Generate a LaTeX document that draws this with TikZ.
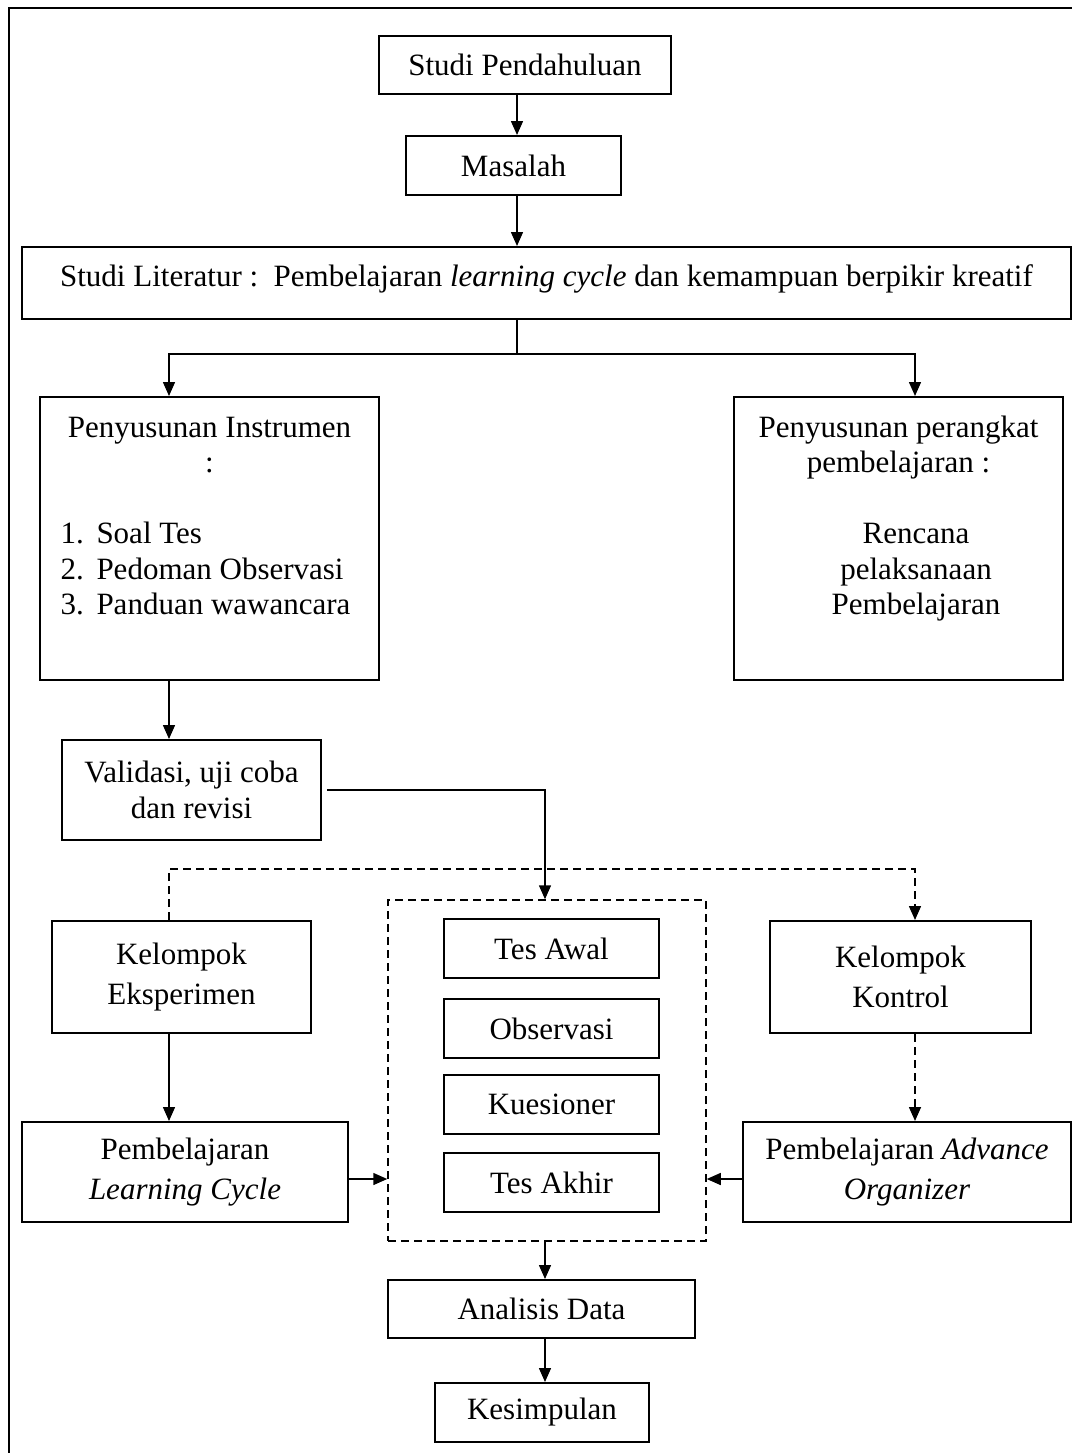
\documentclass[tikz,border=0pt]{standalone}
\usepackage{fontspec}
\setmainfont{Liberation Serif}
\usetikzlibrary{arrows.meta,positioning}
\newdimen\px \px=0.4pt
\tikzset{>={Triangle[length=5.6pt,width=4.8pt]}}
\tikzset{box/.style={draw, line width=0.8pt, inner sep=0pt, align=center}}
\tikzset{boxsize/.style 2 args={minimum width=#1*\px, minimum height=#2*\px}}
\tikzset{txt/.style={inner sep=0pt}}
\tikzset{loose/.style={font=\fontsize{12.4pt}{16pt}\selectfont}}
\tikzset{flow/.style={->, line width=0.6pt}}
\tikzset{dashflow/.style={line width=0.6pt, dash pattern=on 3.2pt off 2pt}}

\begin{document}
\begin{tikzpicture}[x=0.4pt,y=-0.4pt,font=\fontsize{12.4pt}{14.4pt}\selectfont]
  \useasboundingbox (0,0) rectangle (1072,1453);
  % frame
  \draw[line width=0.8pt] (9,1453) -- (9,8) -- (1072,8);

  \coordinate (spine) at (517,0);
  \coordinate (fork) at (517,354);
  \coordinate (forkL) at (169,354);
  \coordinate (forkR) at (915,354);
  \coordinate (dashL) at (169,869);
  \coordinate (dashR) at (915,869);
  \coordinate (drop) at (545,0);
  \coordinate (side) at (0,1179);

  \node[box, boxsize={292}{58}] (pend) at (525,65) {Studi Pendahuluan};
  \node[box, boxsize={215}{59}] (masalah) at (513.5,165.5) {Masalah};
  \node[box, minimum width=1049*\px, text height=15.6pt, text depth=13.2pt, anchor=north] (lit) at (546.5,246)
    {Studi Literatur :\ \ Pembelajaran \textit{learning cycle} dan kemampuan berpikir kreatif};

  \node[box, boxsize={339}{283}] (instr) at (209.5,538.5) {};
  \node[box, boxsize={329}{283}] (perangkat) at (898.5,538.5) {};
  % instrumen
  \node[txt, anchor=base] (instr1) at (209.5,437) {Penyusunan Instrumen};
  \node[txt, anchor=base] (instr2) at (209.5,472) {:};
  \foreach \y/\t [count=\k] in {543/Soal Tes, 579/Pedoman Observasi, 614/Panduan wawancara} {
    \node[txt, anchor=base west] (num\k) at (60,\y) {\k.};
    \node[txt, anchor=base west] (item\k) at (96,\y) {\t};
  }
  % perangkat
  \node[txt, anchor=base] (perangkat1) at (898.5,437) {Penyusunan perangkat};
  \node[txt, anchor=base] (perangkat2) at (898.5,472) {pembelajaran :};
  \node[txt, anchor=base] (rpp1) at (916,543) {Rencana};
  \node[txt, anchor=base] (rpp2) at (916,579) {pelaksanaan};
  \node[txt, anchor=base] (rpp3) at (916,614) {Pembelajaran};

  \node[box, boxsize={259}{100}] (valid) at (191.5,790) {Validasi, uji coba\\dan revisi};
  \node[box, loose, boxsize={259}{112}] (eksp) at (181.5,977) {Kelompok\\Eksperimen};
  \node[box, loose, boxsize={261}{112}] (kontrol) at (900.5,977) {Kelompok\\Kontrol};

  \node[draw, dashflow, inner sep=0pt, boxsize={318}{341}] (tests) at (547,1070.5) {};
  \foreach \y/\t/\n in {948.5/Tes Awal/awal, 1028.5/Observasi/obs, 1104.5/Kuesioner/kues, 1182.5/Tes Akhir/akhir}
    \node[box, boxsize={215}{59}] (\n) at (551.5,\y) {\t};

  \node[box, loose, boxsize={326}{100}] (lc) at (185,1172) {Pembelajaran\\\textit{Learning Cycle}};
  \node[box, loose, boxsize={328}{100}] (ao) at (907,1172) {Pembelajaran \textit{Advance}\\\textit{Organizer}};
  \node[box, boxsize={307}{58}] (analisis) at (541.5,1309) {Analisis Data};
  \node[box, boxsize={214}{59}] (kesimpulan) at (542,1412.5) {Kesimpulan};

  \draw[flow] (pend.south -| spine) -- (masalah.north -| spine);
  \draw[flow] (masalah.south -| spine) -- (lit.north -| spine);
  \draw[line width=0.6pt] (lit.south -| fork) -- (fork);
  \draw[flow] (fork) -- (forkL) -- (forkL |- instr.north);
  \draw[flow] (fork) -- (forkR) -- (forkR |- perangkat.north);
  \draw[flow] (instr.south -| forkL) -- (valid.north -| forkL);
  \draw[flow] ([xshift=2pt]valid.east) -| (tests.north -| drop);
  \draw[flow, dashflow] (eksp.north -| dashL) -- (dashL) -- (dashR) -- (dashR |- kontrol.north);
  \draw[flow] (eksp.south -| dashL) -- (lc.north -| dashL);
  \draw[flow, dashflow] (kontrol.south -| dashR) -- (ao.north -| dashR);
  \draw[flow] (lc.east |- side) -- (tests.west |- side);
  \draw[flow] (ao.west |- side) -- (tests.east |- side);
  \draw[flow] (tests.south -| drop) -- (analisis.north -| drop);
  \draw[flow] (analisis.south -| drop) -- (kesimpulan.north -| drop);
\end{tikzpicture}
\end{document}
